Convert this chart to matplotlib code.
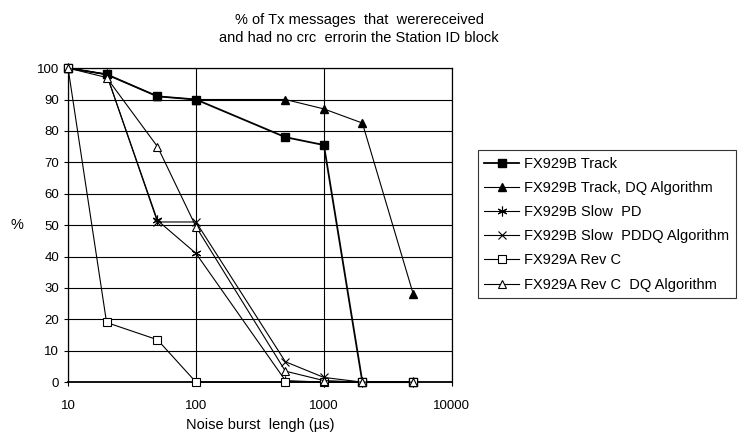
import matplotlib
matplotlib.use("Agg")
import matplotlib.pyplot as plt

plt.rcParams['font.family'] = ['Liberation Sans', 'DejaVu Sans']

burst = [10, 20, 50, 100, 500, 1000, 2000, 5000]
track = [100, 98, 91, 90, 78, 75.5, 0, 0]
track_dq = [100, 98, 91, 90, 90, 87, 82.5, 28]
slow_pd = [100, 98, 51.5, 41, 0.5, 0, 0, 0]
slow_pd_dq = [100, 98, 51, 51, 6.5, 1.5, 0, 0]
revc = [100, 19, 13.5, 0, 0, 0, 0, 0]
revc_dq = [100, 97, 75, 49.5, 3.5, 0.5, 0, 0]

labels = ["FX929B Track", "FX929B Track, DQ Algorithm", "FX929B Slow  PD",
          "FX929B Slow  PDDQ Algorithm", "FX929A Rev C", "FX929A Rev C  DQ Algorithm"]
yticks = list(range(0, 101, 10))
xticks = [10, 100, 1000, 10000]

fig = plt.figure(figsize=(7.48, 4.48), dpi=100)
ax = fig.add_axes([0.091, 0.147, 0.513, 0.701])

series = [track, track_dq, slow_pd, slow_pd_dq, revc, revc_dq]
styles = [
    dict(marker='s', mfc='black', mec='black', ms=6, lw=1.3),
    dict(marker='^', mfc='black', mec='black', ms=6, lw=0.8),
    dict(marker=(6, 2, 0), mfc='black', mec='black', ms=7, lw=0.8, mew=0.8),
    dict(marker='x', mfc='black', mec='black', ms=6, lw=0.8, mew=0.8),
    dict(marker='s', mfc='white', mec='black', ms=6, lw=0.8, mew=0.8),
    dict(marker='^', mfc='white', mec='black', ms=6, lw=0.8, mew=0.8),
]
for ys, lab, st in zip(series, labels, styles):
    ax.plot(burst, ys, color='black', label=lab, clip_on=False, zorder=3, **st)

ax.set_xscale('log')
ax.set_xlim(10, 10000)
ax.set_ylim(0, 100)
ax.set_xticks(xticks)
ax.set_xticklabels([str(v) for v in xticks])
ax.minorticks_off()
ax.set_yticks(yticks)
ax.set_yticklabels([str(v) for v in yticks])
ax.grid(True, which='major', color='black', lw=0.8)
ax.set_axisbelow(True)
for s in ax.spines.values():
    s.set_color('black')
    s.set_linewidth(0.9)
ax.spines['bottom'].set_linewidth(1.3)
ax.tick_params(axis='both', labelsize=9.5, length=3, width=0.8, color='black')
ax.tick_params(axis='x', pad=10)
ax.set_xlabel("Noise burst  lengh (µs)", fontsize=10.5, labelpad=4)
ax.set_ylabel("%", fontsize=10.5, rotation=0, labelpad=14, va='center')

fig.suptitle("% of Tx messages  that  werereceived\nand had no crc  errorin the Station ID block",
             fontsize=10.5, x=0.48, y=0.972, va='top', linespacing=1.45)

leg = ax.legend(loc='upper left', bbox_to_anchor=(1.068, 0.739), fontsize=10.5,
                frameon=True, fancybox=False, edgecolor='black', handlelength=2.4,
                borderpad=0.45, labelspacing=0.7, handletextpad=0.3, borderaxespad=0)
leg.get_frame().set_linewidth(0.8)

fig.savefig("out.png", dpi=100)
